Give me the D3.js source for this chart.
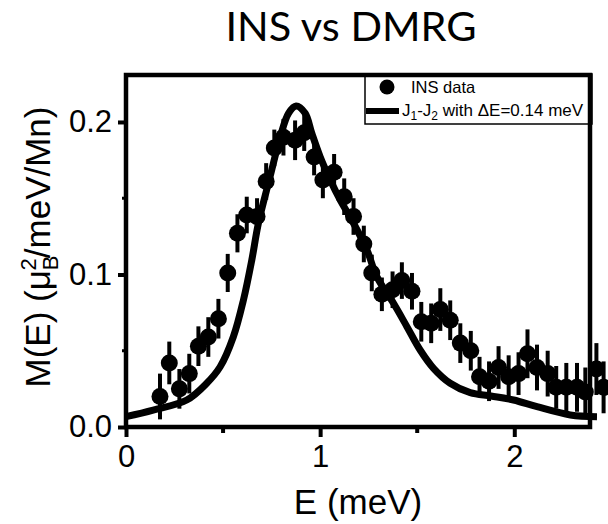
<!DOCTYPE html>
<html>
<head>
<meta charset="utf-8">
<script src="https://cdn.jsdelivr.net/npm/d3@7"></script>
<style>
    body { margin: 0; background: #fff; }
    svg { display: block; }
</style>
</head>
<body>
<svg id="chart" width="608" height="524"></svg>
<script>
const energy = [0.175, 0.223, 0.275, 0.326, 0.373, 0.424, 0.476, 0.524, 0.574, 0.622, 0.675, 0.722,
    0.764, 0.811, 0.871, 0.918, 0.969, 1.014, 1.072, 1.124, 1.172, 1.225, 1.266, 1.318, 1.373, 1.421,
    1.473, 1.521, 1.572, 1.619, 1.670, 1.722, 1.776, 1.821, 1.870, 1.919, 1.971, 2.022, 2.068, 2.117,
    2.172, 2.216, 2.268, 2.323, 2.366, 2.423, 2.460];
const intensity = [0.020, 0.042, 0.025, 0.035, 0.053, 0.059, 0.071, 0.101, 0.127, 0.139, 0.138, 0.161,
    0.183, 0.190, 0.188, 0.193, 0.177, 0.162, 0.167, 0.151, 0.138, 0.120, 0.101, 0.087, 0.090, 0.096,
    0.089, 0.069, 0.068, 0.077, 0.070, 0.055, 0.050, 0.033, 0.030, 0.039, 0.033, 0.035, 0.048, 0.039,
    0.035, 0.026, 0.026, 0.026, 0.023, 0.038, 0.026];
const errorBar = [0.015, 0.014, 0.013, 0.013, 0.013, 0.013, 0.013, 0.0125, 0.0125, 0.012, 0.012, 0.012,
    0.012, 0.012, 0.013, 0.012, 0.012, 0.012, 0.012, 0.012, 0.012, 0.012, 0.012, 0.011, 0.012, 0.012,
    0.012, 0.013, 0.013, 0.014, 0.013, 0.013, 0.013, 0.013, 0.013, 0.014, 0.014, 0.014, 0.016, 0.015,
    0.015, 0.014, 0.016, 0.016, 0.016, 0.017, 0.017];

// J1-J2 model curve (DMRG)
const modelE = [0, 0.14, 0.313, 0.416, 0.485, 0.553, 0.605, 0.648, 0.682, 0.742, 0.794, 0.837, 0.876,
    0.923, 0.957, 1.0, 1.052, 1.103, 1.172, 1.241, 1.292, 1.378, 1.447, 1.515, 1.584, 1.670, 1.773,
    1.88, 1.996, 2.117, 2.289, 2.426];
const modelM = [0.0068, 0.0111, 0.0177, 0.0287, 0.0395, 0.0592, 0.0833, 0.1095, 0.1336, 0.1641, 0.190,
    0.2057, 0.2105, 0.2057, 0.1926, 0.1772, 0.162, 0.1489, 0.1336, 0.1161, 0.0986, 0.0811, 0.0658,
    0.0505, 0.0385, 0.0287, 0.0225, 0.0203, 0.0177, 0.0133, 0.0079, 0.0068];

const xMajor = [0, 1, 2];
const xMinor = [0.5, 1.5];
const yMajor = [0, 0.1, 0.2];
const yMinor = [0.05, 0.15];

document.addEventListener('DOMContentLoaded', function () {
    const left = 126, right = 590, top = 75, bottom = 427;
    const svg = d3.select("#chart");

    const x = d3.scaleLinear().domain([0, 2.39]).range([left, right]);
    const y = d3.scaleLinear().domain([0, 0.2308]).range([bottom, top]);

    const points = energy.map((e, i) => ({ e: e, m: intensity[i], err: errorBar[i] }));
    const model = modelE.map((e, i) => ({ e: e, m: modelM[i] }));

    // title
    svg.append("text")
        .attr("x", 351).attr("y", 41)
        .attr("text-anchor", "middle")
        .style("font-family", "Lato, 'Open Sans', sans-serif")
        .style("font-size", "41.5px")
        .text("INS vs DMRG");

    // axes
    const xAxis = d3.axisBottom(x).tickValues(xMajor).tickFormat(d3.format("d")).tickSize(10).tickPadding(8);
    const yAxis = d3.axisLeft(y).tickValues(yMajor).tickFormat(d3.format(".1f")).tickSize(8).tickPadding(6);

    const gx = svg.append("g").attr("transform", `translate(0,${bottom})`).call(xAxis);
    const gy = svg.append("g").attr("transform", `translate(${left},0)`).call(yAxis);

    [gx, gy].forEach(g => {
        g.select(".domain").remove();
        g.selectAll(".tick line").attr("stroke", "#000").attr("stroke-width", 4);
        g.selectAll(".tick text")
            .style("font-family", "'Liberation Sans', Arial, sans-serif")
            .style("font-size", "31px")
            .attr("fill", "#000");
    });

    svg.append("g").selectAll("line")
        .data(xMinor)
        .join("line")
        .attr("x1", d => x(d)).attr("x2", d => x(d))
        .attr("y1", bottom).attr("y2", bottom + 6)
        .attr("stroke", "#000").attr("stroke-width", 4);

    svg.append("g").selectAll("line")
        .data(yMinor)
        .join("line")
        .attr("x1", left - 4).attr("x2", left)
        .attr("y1", d => y(d)).attr("y2", d => y(d))
        .attr("stroke", "#000").attr("stroke-width", 3);

    // error bars and points
    svg.append("g").selectAll("line")
        .data(points)
        .join("line")
        .attr("x1", d => x(d.e)).attr("x2", d => x(d.e))
        .attr("y1", d => y(d.m - d.err)).attr("y2", d => y(d.m + d.err))
        .attr("stroke", "#000").attr("stroke-width", 4);

    svg.append("g").selectAll("circle")
        .data(points)
        .join("circle")
        .attr("cx", d => x(d.e))
        .attr("cy", d => y(d.m))
        .attr("r", 8.5)
        .attr("fill", "#000");

    const line = d3.line()
        .x(d => x(d.e))
        .y(d => y(d.m))
        .curve(d3.curveCatmullRom.alpha(0.5));

    svg.append("path")
        .datum(model)
        .attr("d", line)
        .attr("fill", "none")
        .attr("stroke", "#000")
        .attr("stroke-width", 7);

    // legend
    const legend = svg.append("g");
    legend.append("rect")
        .attr("x", 365).attr("y", 74).attr("width", 227).attr("height", 50)
        .attr("fill", "#fff").attr("stroke", "#000").attr("stroke-width", 1.5);
    legend.append("circle").attr("cx", 387).attr("cy", 87).attr("r", 7.5).attr("fill", "#000");
    legend.append("line")
        .attr("x1", 366).attr("x2", 399).attr("y1", 111).attr("y2", 111)
        .attr("stroke", "#000").attr("stroke-width", 6);
    legend.append("text")
        .attr("x", 411).attr("y", 93)
        .style("font-family", "'Liberation Sans', Arial, sans-serif")
        .style("font-size", "16.5px")
        .text("INS data");
    const lt = legend.append("text")
        .attr("x", 402).attr("y", 116)
        .style("font-family", "'Liberation Sans', Arial, sans-serif")
        .style("font-size", "17px");
    lt.append("tspan").text("J");
    lt.append("tspan").attr("dy", 4).style("font-size", "12px").text("1");
    lt.append("tspan").attr("dy", -4).text("-J");
    lt.append("tspan").attr("dy", 4).style("font-size", "12px").text("2");
    lt.append("tspan").attr("dy", -4).text(" with \u0394E=0.14 meV");

    // frame
    svg.append("rect")
        .attr("x", left).attr("y", top)
        .attr("width", right - left).attr("height", bottom - top)
        .attr("fill", "none").attr("stroke", "#000").attr("stroke-width", 4.5);

    // axis titles
    svg.append("text")
        .attr("x", 358).attr("y", 514)
        .attr("text-anchor", "middle")
        .style("font-family", "'Liberation Sans', Arial, sans-serif")
        .style("font-size", "35px")
        .text("E (meV)");

    const yl = svg.append("text")
        .attr("transform", "translate(50,247) rotate(-90)")
        .attr("text-anchor", "middle")
        .style("font-family", "'Liberation Sans', Arial, sans-serif")
        .style("font-size", "35px");
    yl.append("tspan").text("M(E) (\u03bc");
    yl.append("tspan").attr("dy", 8).style("font-size", "22px").text("B");
    yl.append("tspan").attr("dx", -15).attr("dy", -22).style("font-size", "22px").text("2");
    yl.append("tspan").attr("dy", 14).text("/meV/Mn)");
});
</script>
</body>
</html>
